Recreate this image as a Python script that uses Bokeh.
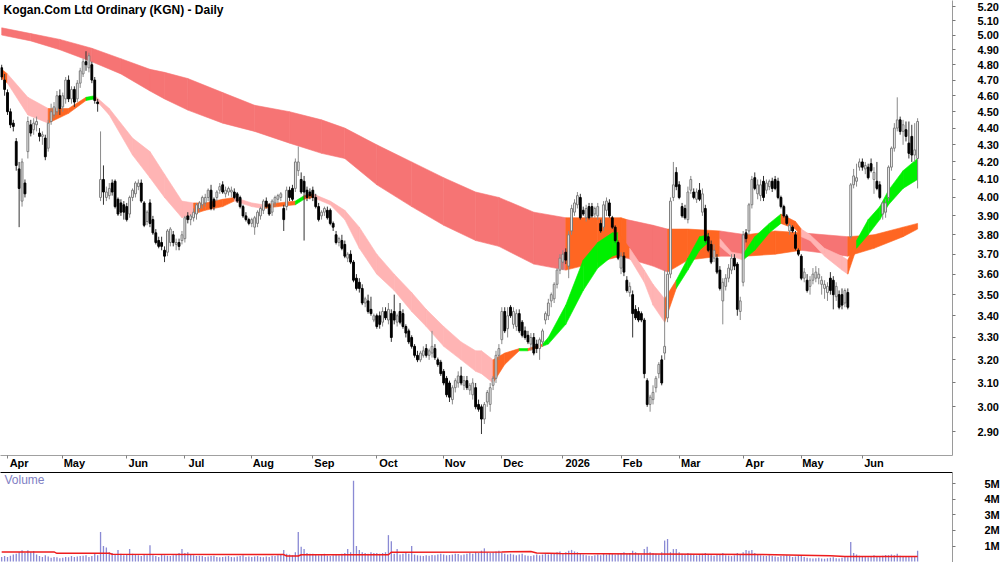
import numpy as np
from bokeh.plotting import figure
from bokeh.layouts import column
from bokeh.models import (Range1d, FixedTicker, PrintfTickFormatter, LinearAxis,
                          Label, ColumnDataSource)
from bokeh.embed import file_html
from bokeh.resources import INLINE

# ---------------- data ----------------
month_names = ["Apr", "May", "Jun", "Jul", "Aug", "Sep", "Oct", "Nov", "Dec",
               "2026", "Feb", "Mar", "Apr", "May", "Jun"]
month_start = [2, 21, 43, 63, 86, 107, 129, 152, 172, 193, 213, 233, 255, 275, 296]

open_ = [
    4.78, 4.70, 4.62, 4.50, 4.43, 4.32, 4.16, 3.98, 4.08, 4.26,
    4.42, 4.39, 4.42, 4.37, 4.35, 4.34, 4.28, 4.44, 4.48, 4.50,
    4.60, 4.53, 4.58, 4.70, 4.58, 4.64, 4.58, 4.68, 4.74, 4.82,
    4.78, 4.80, 4.70, 4.56, 4.00, 4.10, 4.00, 4.01, 4.08, 4.09,
    3.99, 3.97, 3.96, 3.95, 3.91, 4.00, 4.02, 4.06, 4.08, 3.97,
    3.87, 3.97, 3.88, 3.81, 3.77, 3.76, 3.72, 3.71, 3.76, 3.80,
    3.75, 3.76, 3.77, 3.78, 3.90, 3.88, 3.89, 3.91, 3.94, 3.96,
    3.97, 4.00, 4.04, 3.99, 4.00, 4.04, 4.07, 4.02, 4.03, 4.03,
    4.03, 4.02, 4.00, 3.95, 3.90, 3.88, 3.86, 3.84, 3.86, 3.90,
    3.93, 3.98, 3.96, 3.92, 3.97, 3.99, 4.00, 3.94, 3.95, 4.04,
    4.05, 4.05, 4.15, 4.10, 4.09, 4.04, 4.03, 4.04, 4.00, 3.95,
    3.90, 3.92, 3.93, 3.93, 3.86, 3.80, 3.76, 3.77, 3.75, 3.68,
    3.70, 3.66, 3.58, 3.56, 3.53, 3.46, 3.47, 3.43, 3.38, 3.40,
    3.40, 3.37, 3.42, 3.38, 3.41, 3.42, 3.37, 3.42, 3.41, 3.35,
    3.33, 3.30, 3.26, 3.22, 3.20, 3.22, 3.25, 3.22, 3.23, 3.25,
    3.20, 3.19, 3.15, 3.12, 3.10, 3.03, 3.08, 3.10, 3.13, 3.09,
    3.11, 3.07, 3.05, 3.08, 3.01, 3.00, 2.95, 3.02, 3.01, 3.09,
    3.12, 3.22, 3.29, 3.42, 3.34, 3.44, 3.36, 3.35, 3.41, 3.37,
    3.33, 3.31, 3.27, 3.30, 3.27, 3.25, 3.28, 3.38, 3.40, 3.47,
    3.48, 3.55, 3.62, 3.66, 3.71, 3.64, 3.82, 3.92, 3.96, 4.00,
    3.93, 3.89, 3.95, 3.95, 3.91, 3.90, 3.86, 3.84, 3.93, 3.97,
    3.89, 3.84, 3.76, 3.63, 3.69, 3.57, 3.51, 3.50, 3.43, 3.42,
    3.41, 3.38, 3.11, 3.01, 3.03, 3.08, 3.14, 3.20, 3.23, 3.39,
    3.60, 4.00, 4.14, 4.07, 3.95, 3.94, 3.88, 4.04, 4.03, 3.99,
    4.04, 3.92, 3.94, 3.79, 3.75, 3.68, 3.68, 3.62, 3.47, 3.54,
    3.58, 3.62, 3.68, 3.65, 3.42, 3.56, 3.81, 3.82, 3.96, 4.11,
    4.02, 4.01, 4.09, 4.04, 4.06, 4.09, 4.10, 4.09, 4.00, 3.95,
    3.90, 3.82, 3.84, 3.80, 3.72, 3.69, 3.58, 3.57, 3.54, 3.57,
    3.58, 3.58, 3.55, 3.53, 3.51, 3.58, 3.57, 3.49, 3.50, 3.50,
    3.46, 3.51, 3.79, 4.07, 4.09, 4.17, 4.20, 4.16, 4.17, 4.19,
    4.10, 4.09, 4.07, 3.91, 3.92, 4.00, 4.17, 4.28, 4.40, 4.45,
    4.38, 4.39, 4.31, 4.35, 4.24, 4.22]

high = [
    4.80, 4.74, 4.64, 4.52, 4.45, 4.34, 4.20, 4.22, 4.10, 4.47,
    4.45, 4.46, 4.47, 4.40, 4.38, 4.36, 4.45, 4.55, 4.56, 4.63,
    4.64, 4.62, 4.72, 4.73, 4.66, 4.66, 4.70, 4.78, 4.84, 4.89,
    4.88, 4.82, 4.72, 4.58, 4.38, 4.18, 4.06, 4.08, 4.10, 4.10,
    4.00, 3.99, 3.98, 3.97, 4.01, 4.05, 4.09, 4.10, 4.10, 3.98,
    3.93, 3.99, 3.90, 3.83, 3.79, 3.79, 3.74, 3.83, 3.84, 3.82,
    3.78, 3.78, 3.82, 3.90, 3.92, 3.91, 3.94, 3.97, 3.98, 4.01,
    4.02, 4.05, 4.07, 4.00, 4.04, 4.08, 4.09, 4.06, 4.06, 4.06,
    4.05, 4.03, 4.01, 3.96, 3.92, 3.89, 3.89, 3.90, 3.93, 3.95,
    3.99, 4.00, 3.97, 3.99, 4.01, 4.02, 4.03, 3.96, 4.06, 4.06,
    4.07, 4.22, 4.29, 4.14, 4.12, 4.06, 4.05, 4.06, 4.02, 3.97,
    3.93, 3.95, 3.95, 3.94, 3.87, 3.82, 3.79, 3.80, 3.77, 3.71,
    3.72, 3.67, 3.60, 3.58, 3.55, 3.49, 3.50, 3.49, 3.41, 3.41,
    3.42, 3.44, 3.44, 3.46, 3.43, 3.50, 3.41, 3.46, 3.43, 3.36,
    3.34, 3.31, 3.27, 3.24, 3.24, 3.26, 3.27, 3.25, 3.33, 3.27,
    3.21, 3.20, 3.16, 3.13, 3.11, 3.09, 3.12, 3.15, 3.17, 3.13,
    3.13, 3.10, 3.12, 3.10, 3.03, 3.01, 3.02, 3.07, 3.10, 3.13,
    3.24, 3.27, 3.44, 3.44, 3.44, 3.45, 3.44, 3.43, 3.43, 3.38,
    3.35, 3.33, 3.32, 3.32, 3.29, 3.30, 3.34, 3.42, 3.48, 3.51,
    3.56, 3.63, 3.70, 3.72, 3.73, 3.82, 3.96, 3.99, 4.03, 4.02,
    3.95, 3.96, 3.97, 3.97, 3.95, 3.97, 3.88, 3.98, 4.00, 3.99,
    3.90, 3.85, 3.77, 3.71, 3.71, 3.59, 3.56, 3.52, 3.45, 3.44,
    3.42, 3.39, 3.12, 3.05, 3.09, 3.13, 3.19, 3.22, 3.62, 3.62,
    4.00, 4.20, 4.17, 4.09, 3.97, 3.96, 4.06, 4.12, 4.05, 4.05,
    4.08, 4.05, 3.96, 3.81, 3.77, 3.75, 3.70, 3.64, 3.58, 3.60,
    3.65, 3.70, 3.70, 3.66, 3.49, 3.82, 3.83, 3.97, 4.12, 4.14,
    4.10, 4.10, 4.12, 4.10, 4.10, 4.11, 4.12, 4.11, 4.01, 3.96,
    3.91, 3.86, 3.85, 3.82, 3.73, 3.70, 3.63, 3.60, 3.59, 3.63,
    3.64, 3.63, 3.59, 3.57, 3.56, 3.61, 3.59, 3.56, 3.52, 3.53,
    3.53, 3.53, 4.08, 4.16, 4.19, 4.22, 4.22, 4.20, 4.19, 4.22,
    4.17, 4.20, 4.09, 3.98, 3.99, 4.18, 4.29, 4.43, 4.59, 4.47,
    4.45, 4.44, 4.44, 4.42, 4.43, 4.46]

low = [
    4.70, 4.60, 4.48, 4.40, 4.38, 4.15, 3.84, 3.95, 4.00, 4.22,
    4.35, 4.36, 4.38, 4.32, 4.30, 4.21, 4.26, 4.42, 4.46, 4.48,
    4.48, 4.50, 4.55, 4.56, 4.55, 4.53, 4.56, 4.65, 4.72, 4.76,
    4.75, 4.68, 4.55, 4.50, 3.98, 3.96, 3.98, 3.99, 4.01, 3.94,
    3.90, 3.90, 3.88, 3.87, 3.89, 3.98, 4.00, 4.04, 3.97, 3.84,
    3.85, 3.84, 3.80, 3.75, 3.73, 3.72, 3.66, 3.69, 3.74, 3.74,
    3.72, 3.72, 3.75, 3.76, 3.86, 3.85, 3.87, 3.88, 3.92, 3.94,
    3.95, 3.98, 3.93, 3.93, 3.98, 4.02, 4.02, 4.00, 4.01, 4.00,
    3.99, 3.97, 3.94, 3.89, 3.87, 3.85, 3.84, 3.80, 3.84, 3.88,
    3.91, 3.94, 3.90, 3.90, 3.95, 3.97, 3.98, 3.82, 3.93, 3.98,
    3.98, 4.03, 4.12, 4.02, 3.77, 3.98, 3.99, 3.98, 3.94, 3.87,
    3.88, 3.90, 3.88, 3.85, 3.82, 3.75, 3.74, 3.72, 3.68, 3.66,
    3.65, 3.56, 3.52, 3.51, 3.45, 3.44, 3.41, 3.40, 3.37, 3.34,
    3.34, 3.35, 3.38, 3.36, 3.28, 3.36, 3.35, 3.36, 3.34, 3.30,
    3.27, 3.25, 3.21, 3.19, 3.19, 3.21, 3.21, 3.20, 3.21, 3.20,
    3.17, 3.13, 3.09, 3.04, 3.02, 3.01, 3.06, 3.08, 3.09, 3.07,
    3.07, 3.05, 3.03, 2.99, 2.98, 2.89, 2.93, 3.00, 2.98, 3.07,
    3.10, 3.20, 3.27, 3.32, 3.30, 3.39, 3.34, 3.33, 3.32, 3.30,
    3.29, 3.27, 3.24, 3.22, 3.23, 3.20, 3.26, 3.36, 3.38, 3.44,
    3.46, 3.53, 3.60, 3.62, 3.65, 3.58, 3.80, 3.90, 3.94, 3.88,
    3.90, 3.87, 3.88, 3.89, 3.89, 3.88, 3.81, 3.82, 3.90, 3.89,
    3.83, 3.76, 3.67, 3.60, 3.59, 3.51, 3.49, 3.30, 3.38, 3.37,
    3.37, 3.12, 3.00, 2.98, 3.01, 3.06, 3.12, 3.09, 3.20, 3.37,
    3.58, 3.98, 4.04, 3.99, 3.89, 3.88, 3.86, 4.02, 3.99, 3.97,
    3.98, 3.90, 3.76, 3.71, 3.65, 3.66, 3.60, 3.52, 3.36, 3.52,
    3.56, 3.60, 3.62, 3.40, 3.38, 3.54, 3.76, 3.80, 3.94, 4.04,
    3.99, 3.98, 3.98, 4.02, 4.04, 4.03, 4.04, 3.99, 3.94, 3.89,
    3.85, 3.80, 3.81, 3.72, 3.69, 3.57, 3.56, 3.51, 3.50, 3.55,
    3.56, 3.55, 3.50, 3.48, 3.47, 3.50, 3.43, 3.47, 3.43, 3.43,
    3.44, 3.43, 3.78, 4.05, 4.06, 4.15, 4.15, 4.13, 4.10, 4.14,
    4.02, 4.04, 3.99, 3.88, 3.89, 3.98, 4.15, 4.26, 4.38, 4.36,
    4.30, 4.32, 4.22, 4.20, 4.20, 4.05]

close = [
    4.72, 4.64, 4.50, 4.42, 4.41, 4.18, 4.05, 4.20, 4.02, 4.44,
    4.37, 4.43, 4.44, 4.35, 4.36, 4.23, 4.43, 4.50, 4.53, 4.60,
    4.52, 4.60, 4.70, 4.58, 4.64, 4.56, 4.68, 4.76, 4.82, 4.80,
    4.86, 4.70, 4.57, 4.55, 4.10, 4.03, 4.03, 4.05, 4.03, 3.95,
    3.91, 3.92, 3.92, 3.88, 4.00, 4.04, 4.08, 4.08, 3.98, 3.85,
    3.92, 3.86, 3.81, 3.76, 3.74, 3.74, 3.69, 3.82, 3.83, 3.76,
    3.76, 3.74, 3.80, 3.89, 3.88, 3.90, 3.92, 3.96, 3.97, 4.00,
    4.00, 4.04, 3.94, 3.95, 4.03, 4.06, 4.03, 4.04, 4.05, 4.04,
    4.00, 3.98, 3.95, 3.90, 3.88, 3.86, 3.88, 3.89, 3.92, 3.94,
    3.98, 3.95, 3.91, 3.98, 4.00, 4.01, 4.02, 3.88, 4.04, 4.00,
    3.99, 4.20, 4.20, 4.03, 4.03, 4.00, 4.01, 4.00, 3.95, 3.88,
    3.92, 3.94, 3.89, 3.86, 3.84, 3.76, 3.78, 3.73, 3.69, 3.70,
    3.66, 3.57, 3.53, 3.53, 3.46, 3.48, 3.42, 3.41, 3.40, 3.35,
    3.36, 3.42, 3.39, 3.43, 3.30, 3.38, 3.40, 3.37, 3.35, 3.32,
    3.28, 3.26, 3.22, 3.20, 3.23, 3.24, 3.22, 3.24, 3.26, 3.21,
    3.18, 3.14, 3.10, 3.05, 3.04, 3.08, 3.11, 3.13, 3.10, 3.11,
    3.08, 3.09, 3.10, 3.00, 2.99, 2.95, 3.01, 3.06, 3.08, 3.12,
    3.22, 3.25, 3.42, 3.33, 3.40, 3.40, 3.42, 3.41, 3.33, 3.31,
    3.30, 3.28, 3.30, 3.23, 3.25, 3.29, 3.33, 3.41, 3.46, 3.50,
    3.55, 3.62, 3.68, 3.70, 3.67, 3.80, 3.94, 3.97, 4.01, 3.89,
    3.91, 3.94, 3.89, 3.90, 3.94, 3.95, 3.82, 3.96, 3.98, 3.90,
    3.84, 3.77, 3.68, 3.69, 3.61, 3.52, 3.54, 3.41, 3.39, 3.38,
    3.38, 3.14, 3.01, 3.04, 3.06, 3.12, 3.18, 3.10, 3.26, 3.60,
    3.98, 4.07, 4.06, 4.00, 3.90, 3.89, 4.03, 4.10, 4.00, 4.03,
    3.99, 4.02, 3.77, 3.72, 3.66, 3.72, 3.61, 3.53, 3.56, 3.58,
    3.63, 3.68, 3.64, 3.43, 3.47, 3.80, 3.78, 3.96, 4.10, 4.05,
    4.07, 4.07, 4.00, 4.08, 4.09, 4.05, 4.05, 4.00, 3.95, 3.90,
    3.86, 3.85, 3.82, 3.73, 3.70, 3.58, 3.61, 3.52, 3.57, 3.60,
    3.61, 3.60, 3.57, 3.55, 3.54, 3.52, 3.50, 3.54, 3.44, 3.45,
    3.52, 3.44, 4.07, 4.12, 4.11, 4.20, 4.17, 4.18, 4.11, 4.15,
    4.14, 4.05, 4.00, 3.97, 3.97, 4.17, 4.28, 4.40, 4.45, 4.38,
    4.42, 4.35, 4.25, 4.24, 4.27, 4.44]

# daily volume, millions of shares
volume_m = [
    0.30, 0.35,
    0.30, 0.38, 0.45, 0.50, 0.62, 0.72, 0.55, 0.72, 0.60, 0.68, 0.45, 0.35, 0.30, 0.40,
    0.32, 0.25, 0.30, 0.28, 0.22,
    0.25, 0.30, 0.28, 0.35, 0.30, 0.32, 0.35, 0.38, 0.40, 0.30, 0.35, 0.55, 0.40, 1.90,
    1.00, 0.90, 0.60, 0.55, 0.45, 0.75, 0.50, 0.40,
    0.45, 0.80, 0.50, 0.45, 0.40, 0.35, 0.45, 0.40, 1.05, 0.40, 0.35, 0.30, 0.45, 0.40,
    0.38, 0.35, 0.40, 0.45, 0.55, 0.80,
    0.55, 0.60, 0.45, 0.40, 0.35, 0.38, 0.35, 0.30, 0.32, 0.35, 0.38, 0.30, 0.28, 0.30,
    0.32, 0.35, 0.30, 0.28, 0.32, 0.35, 0.40, 0.30, 0.32,
    0.30, 0.32, 0.35, 0.30, 0.28, 0.33, 0.30, 0.38, 0.35, 0.40, 0.45, 0.75, 0.50, 0.45,
    0.40, 0.60, 1.90, 0.95, 0.80, 0.55, 0.50,
    0.50, 0.45, 0.40, 0.45, 0.50, 0.38, 0.35, 0.40, 0.45, 0.40, 0.50, 0.55, 0.80, 0.60,
    5.20, 1.00, 0.75, 0.60, 0.55, 0.50, 0.60, 0.55,
    0.55, 0.50, 0.55, 0.60, 1.70, 1.30, 0.50, 0.80, 0.45, 0.50, 0.55, 0.50, 1.00, 0.45,
    0.40, 0.38, 0.35, 0.40, 0.38, 0.42, 0.40, 0.45, 0.50,
    0.45, 0.40, 0.42, 0.45, 0.50, 0.48, 0.40, 0.45, 0.50, 0.55, 0.50, 0.60, 0.55, 0.70,
    0.85, 0.60, 0.55, 0.60, 0.65, 0.70,
    0.55, 0.50, 0.45, 0.50, 0.45, 0.40, 0.45, 0.50, 0.40, 0.38, 0.35, 0.40, 0.45, 0.40,
    0.45, 0.50, 0.45, 0.50, 0.55, 0.60, 0.65,
    0.55, 0.60, 0.70, 0.75, 0.65, 0.60, 0.55, 0.45, 0.40, 0.38, 0.35, 0.40, 0.45, 0.40,
    0.50, 0.45, 0.55, 0.50, 0.45, 0.50,
    0.55, 0.60, 0.50, 0.55, 0.70, 0.60, 0.50, 0.45, 0.80, 0.95, 0.60, 0.55, 0.50, 0.45,
    0.60, 1.35, 1.45, 0.60, 0.80, 0.80,
    0.60, 0.50, 0.45, 0.55, 0.50, 0.45, 0.40, 0.45, 0.50, 0.55, 0.45, 0.40, 0.38, 0.42,
    0.45, 0.55, 0.40, 0.38, 0.35, 0.40, 0.55, 0.45,
    0.60, 0.75, 0.70, 0.75, 0.55, 0.45, 0.40, 0.38, 0.35, 0.40, 0.35, 0.32, 0.30, 0.35,
    0.38, 0.40, 0.35, 0.30, 0.32, 0.35,
    0.40, 0.30, 0.25, 0.22, 0.20, 0.22, 0.25, 0.20, 0.18, 0.22, 0.25, 0.28, 0.22, 0.20,
    0.25, 0.30, 0.28, 1.25, 0.55, 0.45, 0.38,
    0.30, 0.35, 0.28, 0.32, 0.40, 0.35, 0.30, 0.38, 0.42, 0.40, 0.45, 0.40, 0.50, 0.38,
    0.35, 0.32, 0.30, 0.35, 0.30, 0.70]

# long-term moving-average ribbon (upper / lower edge, state of each segment)
lb_idx = [0, 10, 20, 31, 41, 51, 56, 64, 76, 87, 99, 110, 118, 129, 141, 152, 163, 171,
          183, 194, 205, 213, 215, 224, 229, 236, 247, 256, 266, 275, 291, 300, 310, 315]
lb_top = [5.05, 5.01, 4.97, 4.91, 4.84, 4.77, 4.75, 4.71, 4.62, 4.54, 4.50, 4.45, 4.40,
          4.30, 4.20, 4.11, 4.03, 4.00, 3.92, 3.89, 3.89, 3.89, 3.88, 3.85, 3.83, 3.83,
          3.82, 3.80, 3.82, 3.81, 3.79, 3.80, 3.84, 3.86]
lb_bot = [5.00, 4.96, 4.90, 4.82, 4.74, 4.63, 4.58, 4.51, 4.43, 4.38, 4.31, 4.25, 4.22,
          4.07, 3.95, 3.85, 3.77, 3.74, 3.65, 3.62, 3.66, 3.69, 3.68, 3.64, 3.61, 3.67,
          3.69, 3.69, 3.70, 3.72, 3.69, 3.73, 3.79, 3.83]
lb_state = "RRRRRRRRRRRRRRRRRRR" "OOO" "RR" "OO" "R" "OO" "R" "OOO"

# short-term moving-average ribbon
sb_idx = [0, 2, 9, 16, 23, 29, 32, 37, 45, 51, 56, 62, 66, 70, 76, 80, 86, 90, 95, 101,
          104, 107, 113, 118, 123, 129, 135, 141, 146, 152, 158, 163, 165, 169, 173, 178,
          181, 186, 188, 194, 200, 205, 210, 212, 216, 221, 224, 228, 232, 236, 240, 243,
          247, 251, 255, 259, 264, 268, 273, 275, 278, 283, 289, 291, 294, 298, 302, 305,
          310, 315]
sb_top = [4.77, 4.74, 4.59, 4.52, 4.52, 4.59, 4.60, 4.52, 4.34, 4.26, 4.13, 3.98, 3.97,
          3.97, 3.99, 4.00, 3.97, 3.96, 3.97, 3.98, 4.01, 4.02, 3.98, 3.93, 3.84, 3.70,
          3.60, 3.51, 3.43, 3.35, 3.28, 3.24, 3.24, 3.20, 3.23, 3.25, 3.25, 3.27, 3.30,
          3.45, 3.67, 3.76, 3.81, 3.81, 3.73, 3.62, 3.55, 3.48, 3.57, 3.68, 3.79, 3.80,
          3.78, 3.71, 3.70, 3.79, 3.86, 3.91, 3.87, 3.83, 3.80, 3.73, 3.69, 3.67, 3.77,
          3.88, 3.95, 4.04, 4.15, 4.22]
sb_bot = [4.71, 4.68, 4.48, 4.43, 4.49, 4.57, 4.58, 4.48, 4.24, 4.11, 4.00, 3.89, 3.91,
          3.93, 3.95, 3.98, 3.95, 3.94, 3.95, 3.96, 3.99, 4.00, 3.96, 3.88, 3.73, 3.60,
          3.52, 3.42, 3.35, 3.26, 3.20, 3.15, 3.14, 3.10, 3.18, 3.24, 3.24, 3.26, 3.27,
          3.36, 3.52, 3.63, 3.69, 3.70, 3.68, 3.56, 3.45, 3.37, 3.53, 3.62, 3.72, 3.76,
          3.74, 3.69, 3.67, 3.72, 3.81, 3.86, 3.83, 3.79, 3.77, 3.69, 3.62, 3.60, 3.73,
          3.80, 3.88, 3.96, 4.05, 4.10]
sb_state = ("O" "PP" "OO" "G" "PPPPPP" "OOO" "PP" "OO" "G" "O" "PPPPPPPPPPPP" "OO" "G" "O"
            "GGGGGG" "O" "PPP" "O" "GGG" "O" "PP" "GGG" "OO" "PPPP" "O" "GGGGG")

# volume moving average (millions)
vma_idx = [0, 18, 19, 37, 38, 97, 98, 102, 103, 133, 134, 172, 182, 184, 192, 223, 261,
           275, 285, 290, 315]
vma_val = [0.62, 0.62, 0.53, 0.53, 0.47, 0.45, 0.36, 0.36, 0.44, 0.44, 0.60, 0.62, 0.64,
           0.55, 0.51, 0.49, 0.45, 0.40, 0.37, 0.32, 0.32]

price_ticks = [2.90, 3.00, 3.10, 3.20, 3.30, 3.40, 3.50, 3.60, 3.70, 3.80, 3.90, 4.00,
               4.10, 4.20, 4.30, 4.40, 4.50, 4.60, 4.70, 4.80, 4.90, 5.00, 5.10, 5.20]
vol_ticks = [1e6, 2e6, 3e6, 4e6, 5e6]
vol_tick_labels = ["1M", "2M", "3M", "4M", "5M"]

# ---------------- styling ----------------
FONT = "Liberation Sans"
COL = {"R": "#f67474", "O": "#ff6622", "P": "#ffb4b4", "G": "#00f000"}
PX_PER_DAY = 2.908

n = len(close)
xs = np.arange(n)
x_range = Range1d(-0.41, 327.0)

p = figure(frame_width=952, frame_height=455, x_range=x_range,
           y_range=Range1d(2.806, 5.243), y_axis_type="log", y_axis_location="right",
           x_axis_type=None, output_backend="svg", toolbar_location=None,
           min_border_left=0, min_border_top=0, min_border_right=48, min_border_bottom=14,
           background_fill_color="white", border_fill_color="white")
p.outline_line_color = None
p.grid.grid_line_color = None


def ribbon(idx, top, bot, state):
    pxs, pys, cols = [], [], []
    for k in range(len(idx) - 1):
        pxs.append([idx[k], idx[k + 1], idx[k + 1], idx[k]])
        pys.append([top[k], top[k + 1], bot[k + 1], bot[k]])
        cols.append(COL[state[k]])
    return ColumnDataSource(dict(xs=pxs, ys=pys, c=cols))


p.patches("xs", "ys", source=ribbon(lb_idx, lb_top, lb_bot, lb_state),
          fill_color="c", line_color="c", line_width=0.6)
p.patches("xs", "ys", source=ribbon(sb_idx, sb_top, sb_bot, sb_state),
          fill_color="c", line_color="c", line_width=0.6)

up = [c >= o for o, c in zip(open_, close)]
csrc = ColumnDataSource(dict(
    x=xs, h=high, l=low,
    top=[max(o, c) for o, c in zip(open_, close)],
    bot=[min(o, c) for o, c in zip(open_, close)],
    fill=["white" if u else "black" for u in up],
    line=["#7a7a7a" if u else "black" for u in up],
    wick=["#8a8a8a" if u else "#333333" for u in up]))
p.segment(x0="x", y0="l", x1="x", y1="h", line_color="wick", line_width=1, source=csrc)
p.vbar(x="x", width=0.62, top="top", bottom="bot", fill_color="fill",
       line_color="line", line_width=1, source=csrc)

ya = p.yaxis[0]
ya.ticker = FixedTicker(ticks=price_ticks)
ya.formatter = PrintfTickFormatter(format="%.2f")
ya.axis_line_color = "#9a9a9a"
ya.major_tick_line_color = "#777777"
ya.major_tick_out = 3
ya.major_tick_in = 0
ya.minor_tick_line_color = None
ya.major_label_standoff = 22
ya.major_label_text_font = FONT
ya.major_label_text_font_style = "bold"
ya.major_label_text_font_size = "11px"
ya.major_label_text_color = "black"

# month axis: ticks at the first trading day, label just to the right of it
label_x = [round(s + (2 + 3.2 * len(m)) / PX_PER_DAY, 2) for s, m in zip(month_start, month_names)]
xa = LinearAxis(ticker=FixedTicker(ticks=label_x, minor_ticks=month_start),
                major_label_overrides={lx: m for lx, m in zip(label_x, month_names)})
xa.axis_line_color = "#a0a0a0"
xa.major_tick_line_color = None
xa.major_tick_out = 0
xa.major_tick_in = 0
xa.minor_tick_line_color = "#808080"
xa.minor_tick_out = 3
xa.minor_tick_in = 0
xa.major_label_standoff = -2
xa.major_label_text_font = FONT
xa.major_label_text_font_style = "bold"
xa.major_label_text_font_size = "11px"
xa.major_label_text_color = "black"
p.add_layout(xa, "below")

p.add_layout(Label(x=3, y=453, x_units="screen", y_units="screen",
                   text="Kogan.Com Ltd Ordinary (KGN) - Daily", text_baseline="top",
                   text_font=FONT, text_font_style="bold", text_font_size="12px",
                   text_color="black"))

# ---------------- volume panel ----------------
v = figure(frame_width=952, frame_height=92, x_range=x_range,
           y_range=Range1d(-0.19e6, 5.73e6), y_axis_location="right", x_axis_type=None,
           output_backend="svg", toolbar_location=None,
           min_border_left=0, min_border_top=1, min_border_right=48, min_border_bottom=0,
           background_fill_color="white", border_fill_color="white")
v.outline_line_color = None
v.grid.grid_line_color = None

vol = [m * 1e6 for m in volume_m]
v.vbar(x=xs, top=vol, bottom=0, width=0.45, fill_color="#8a8ad4", line_color=None)
v.line(x=vma_idx, y=[m * 1e6 for m in vma_val], line_color="#ee1c1c", line_width=1.5)

vy = v.yaxis[0]
vy.ticker = FixedTicker(ticks=vol_ticks)
vy.major_label_overrides = {t: s for t, s in zip(vol_ticks, vol_tick_labels)}
vy.axis_line_color = "#9a9a9a"
vy.major_tick_line_color = "#777777"
vy.major_tick_out = 3
vy.major_tick_in = 0
vy.minor_tick_line_color = None
vy.major_label_standoff = 29
vy.major_label_text_font = FONT
vy.major_label_text_font_style = "bold"
vy.major_label_text_font_size = "11px"
vy.major_label_text_color = "black"

top_line = LinearAxis(ticker=FixedTicker(ticks=[]))
top_line.axis_line_color = "black"
top_line.major_tick_line_color = None
top_line.minor_tick_line_color = None
top_line.major_label_standoff = 0
top_line.major_label_text_font_size = "0px"
v.add_layout(top_line, "above")

v.add_layout(Label(x=4, y=92, x_units="screen", y_units="screen", text="Volume",
                   text_baseline="top", text_font=FONT, text_font_size="12px",
                   text_color="#8080c4"))

layout = column(p, v, spacing=0)
open("out.html", "w").write(file_html(layout, INLINE))
